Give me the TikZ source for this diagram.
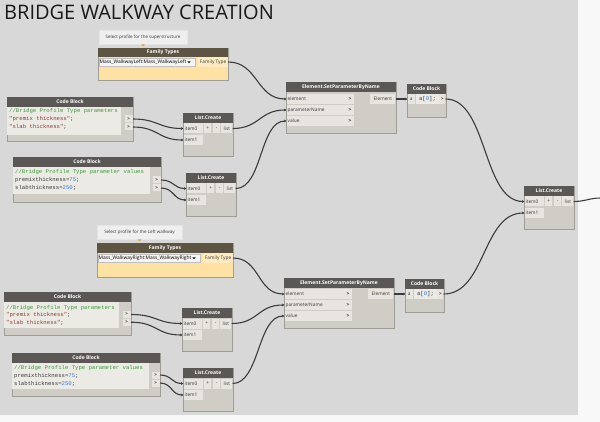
\documentclass[tikz,border=0pt]{standalone}
\usepackage{fontspec}
\setmainfont{Open Sans}
\setmonofont{Liberation Mono}
\usetikzlibrary{arrows.meta}
\definecolor{canvas}{HTML}{D8D8D8}
\definecolor{outside}{HTML}{F8F8F8}
\definecolor{headc}{HTML}{5A5754}
\definecolor{famhead}{HTML}{5E5443}
\definecolor{bodyc}{HTML}{D0CCC6}
\definecolor{borderc}{HTML}{A09C96}
\definecolor{portc}{HTML}{E8E5E0}
\definecolor{codebg}{HTML}{ECEAE5}
\definecolor{famyel}{HTML}{FDE2A3}
\definecolor{famlab}{HTML}{FCEBC2}
\definecolor{wirec}{HTML}{3C3C3C}
\definecolor{cgreen}{HTML}{3E9A3E}
\definecolor{cstr}{HTML}{8E3F2E}
\definecolor{cnum}{HTML}{2F7ED8}
\definecolor{txt}{HTML}{3A3A3A}
\definecolor{notec}{HTML}{EFEFEF}
\definecolor{notetri}{HTML}{F0A030}
\tikzset{
  hdr/.style={text=white, font=\fontsize{5}{6}\selectfont\bfseries, inner sep=0pt},
  inp/.style={fill=portc, text=txt, font=\fontsize{4.8}{5.5}\selectfont, inner xsep=1pt, inner ysep=0pt, minimum height=10pt, anchor=west, align=left},
  code/.style={font=\ttfamily\fontsize{5.65}{8}\selectfont, text=txt, inner sep=0pt, anchor=base west},
  chev/.style={font=\fontsize{5}{6}\selectfont\bfseries, text=txt, inner sep=0pt},
  wire/.style={draw=wirec, line width=1.1pt, -{Stealth[length=2.4pt,width=2.8pt]}},
  note/.style={fill=notec, draw=black!10, line width=0.4pt, text=txt, font=\fontsize{4.5}{5}\selectfont, minimum height=14pt, inner xsep=3pt},
  dd/.style={fill=white!96!black, draw=black!25, line width=0.3pt, text=black, font=\fontsize{4.9}{5.5}\selectfont, minimum height=8.5pt, inner xsep=1pt, inner ysep=0pt, anchor=west, align=left},
  fport/.style={fill=famlab, text=txt, font=\fontsize{4.8}{5.5}\selectfont, minimum height=10pt, inner xsep=1.5pt, inner ysep=0pt, anchor=east},
  cport/.style={fill=portc, text=txt, font=\fontsize{4.6}{5}\selectfont\bfseries, inner sep=0pt, minimum width=8pt, minimum height=7pt, anchor=east},
}
\newcommand\dnbox[6]{%
  \filldraw[fill=bodyc,draw=borderc,line width=0.6pt] ({#2},{#3}) rectangle ({#4},{#5});
  \fill[headc] ({#2},{#3}) rectangle ({#4},{#3+10});
  \node[hdr] (#1) at ({(#2+#4)/2},{#3+5}) {#6};
}
\newcommand\lcreate[3]{%
  \dnbox{#1}{#2}{#3}{#2+50}{#3+43}{List.Create}
  \node[inp, text width=17pt] (#1-i0) at ({#2+0.4},{#3+15.5}) {item0};
  \node[inp, minimum width=7pt, inner xsep=0pt, align=center] (#1-pl) at ({#2+21},{#3+15.5}) {+};
  \node[inp, minimum width=7pt, inner xsep=0pt, align=center] (#1-mi) at ({#2+30},{#3+15.5}) {-};
  \node[inp, minimum width=11pt, anchor=east, align=center] (#1-o) at ({#2+49.6},{#3+15.5}) {list};
  \node[inp, text width=17pt] (#1-i1) at ({#2+0.4},{#3+27}) {item1};
}
\newcommand\wire[3]{\draw[wire] (#1.east) .. controls +(#3,0) and +(-#3,0) .. (#2.west);}
\begin{document}
\begin{tikzpicture}[x=1pt,y=-1pt]
\useasboundingbox (0,0) rectangle (600,422);
\fill[outside] (0,0) rectangle (600,422);
\fill[canvas] (0,0) rectangle (578,415);

\node[anchor=west, font=\fontsize{20}{23}\selectfont, text=black!90, inner sep=0pt] (title) at (4,12.5) {BRIDGE WALKWAY CREATION};

% ---------- upper half ----------
\node[note, minimum width=88pt] (n1) at (143,37) {Select profile for the superstructure};
\fill[notetri] (141,44.3) -- (145,44.3) -- (143,46.5) -- cycle;

\filldraw[fill=famyel, draw=borderc, line width=0.6pt] (98,48) rectangle (228,80);
\fill[famhead] (98,48) rectangle (228,57);
\node[hdr] (ft1) at (163,52.5) {Family Types};
\node[dd, text width=94pt] (ft1-dd) at (98.5,62) {Mass\_WalkwayLeft:Mass\_WalkwayLeft};
\fill[black] (187.5,61.5) -- (190.5,61.5) -- (189,63.2) -- cycle;
\node[fport] (ft1-o) at (228,62) {Family Type};

\dnbox{cb1}{7}{97}{133}{141}{Code Block}
\fill[codebg] (7.3,107) rectangle (121,135);
\node[code] (cb1-t1) at (9,113) {\color{cgreen}//Bridge Profile Type parameters};
\node[code] (cb1-t2) at (9,121) {{\color{cstr}"premix thickness"};};
\node[code] (cb1-t3) at (9,129) {{\color{cstr}"slab thickness"};};
\node[cport] (cb1-p1) at (133,119) {>};
\node[cport] (cb1-p2) at (133,127) {>};

\dnbox{cb2}{13}{157}{161}{202}{Code Block}
\fill[codebg] (13.3,167) rectangle (150,194);
\node[code] (cb2-t1) at (15,174) {\color{cgreen}//Bridge Profile Type parameter values};
\node[code] (cb2-t2) at (15,182) {premixthickness={\color{cnum}75};};
\node[code] (cb2-t3) at (15,190) {slabthickness={\color{cnum}250};};
\node[cport] (cb2-p1) at (161,180) {>};
\node[cport] (cb2-p2) at (161,188) {>};

\lcreate{lc1}{183}{113}
\lcreate{lc2}{186}{173}

\dnbox{es1}{286}{82}{396}{133}{Element.SetParameterByName}
\node[inp, text width=65pt] (es1-e) at (286.4,99) {element};
\node[inp, text width=65pt] (es1-p) at (286.4,110) {parameterName};
\node[inp, text width=65pt] (es1-v) at (286.4,121) {value};
\node[chev] (es1-c1) at (350,99) {>};
\node[chev] (es1-c2) at (350,110) {>};
\node[chev] (es1-c3) at (350,121) {>};
\node[inp, anchor=east, minimum width=25pt, align=center] (es1-o) at (395.6,99) {Element};

\dnbox{cb3}{407}{84}{446}{117}{Code Block}
\fill[codebg] (416,94) rectangle (439,104);
\node[inp, minimum width=7pt, align=center, inner xsep=0pt] (cb3-i) at (407.4,99) {a};
\node[code, anchor=center] (cb3-t) at (427.5,99) {a[{\color{cnum}0}];};
\node[cport, minimum height=10pt, minimum width=6pt] (cb3-o) at (445.6,99) {>};

\lcreate{lc3}{524}{186}

% ---------- lower half ----------
\node[note, minimum width=85pt] (n2) at (139.5,232.5) {Select profile for the Left walkway};
\fill[notetri] (137.5,239.3) -- (141.5,239.3) -- (139.5,241.5) -- cycle;

\filldraw[fill=famyel, draw=borderc, line width=0.6pt] (97,243) rectangle (233,277);
\fill[famhead] (97,243) rectangle (233,253);
\node[hdr] (ft2) at (165,248) {Family Types};
\node[dd, text width=100pt] (ft2-dd) at (97.5,258) {Mass\_WalkwayRight:Mass\_WalkwayRight};
\fill[black] (192.5,257.5) -- (195.5,257.5) -- (194,259.2) -- cycle;
\node[fport] (ft2-o) at (233,258) {Family Type};

\dnbox{cb4}{4}{292}{131}{335}{Code Block}
\fill[codebg] (4.3,302) rectangle (119,328);
\node[code] (cb4-t1) at (6,309) {\color{cgreen}//Bridge Profile Type parameters};
\node[code] (cb4-t2) at (6,316.7) {{\color{cstr}"premix thickness"};};
\node[code] (cb4-t3) at (6,324.4) {{\color{cstr}"slab thickness"};};
\node[cport] (cb4-p1) at (131,314.5) {>};
\node[cport] (cb4-p2) at (131,322.2) {>};

\dnbox{cb5}{12}{353}{160}{396}{Code Block}
\fill[codebg] (12.3,363) rectangle (149,389);
\node[code] (cb5-t1) at (14,369.5) {\color{cgreen}//Bridge Profile Type parameter values};
\node[code] (cb5-t2) at (14,377.3) {premixthickness={\color{cnum}75};};
\node[code] (cb5-t3) at (14,385) {slabthickness={\color{cnum}250};};
\node[cport] (cb5-p1) at (160,375) {>};
\node[cport] (cb5-p2) at (160,383) {>};

\lcreate{lc4}{182}{308}
\lcreate{lc5}{183}{368}

\dnbox{es2}{284}{278}{394}{328}{Element.SetParameterByName}
\node[inp, text width=65pt] (es2-e) at (284.4,294) {element};
\node[inp, text width=65pt] (es2-p) at (284.4,305) {parameterName};
\node[inp, text width=65pt] (es2-v) at (284.4,316) {value};
\node[chev] (es2-c1) at (348,294) {>};
\node[chev] (es2-c2) at (348,305) {>};
\node[chev] (es2-c3) at (348,316) {>};
\node[inp, anchor=east, minimum width=25pt, align=center] (es2-o) at (393.6,294) {Element};

\dnbox{cb6}{405}{279}{444}{312}{Code Block}
\fill[codebg] (414,289) rectangle (437,299);
\node[inp, minimum width=7pt, align=center, inner xsep=0pt] (cb6-i) at (405.4,294) {a};
\node[code, anchor=center] (cb6-t) at (425.5,294) {a[{\color{cnum}0}];};
\node[cport, minimum height=10pt, minimum width=6pt] (cb6-o) at (443.6,294) {>};

% ---------- wires ----------
\wire{ft1-o}{es1-e}{30}
\wire{cb1-p1}{lc1-i0}{25}
\wire{cb1-p2}{lc1-i1}{25}
\wire{cb2-p1}{lc2-i0}{13}
\wire{cb2-p2}{lc2-i1}{13}
\wire{lc1-o}{es1-p}{27}
\wire{lc2-o}{es1-v}{27}
\wire{es1-o}{cb3-i}{5}
\wire{cb3-o}{lc3-i0}{42}
\wire{ft2-o}{es2-e}{27}
\wire{cb4-p1}{lc4-i0}{26}
\wire{cb4-p2}{lc4-i1}{26}
\wire{cb5-p1}{lc5-i0}{12}
\wire{cb5-p2}{lc5-i1}{12}
\wire{lc4-o}{es2-p}{27}
\wire{lc5-o}{es2-v}{27}
\wire{es2-o}{cb6-i}{5}
\wire{cb6-o}{lc3-i1}{42}
\coordinate (offR) at (601,198);
\draw[draw=wirec, line width=1.1pt] (lc3-o.east) .. controls +(12,0) and +(-12,0) .. (offR);
\end{tikzpicture}
\end{document}
